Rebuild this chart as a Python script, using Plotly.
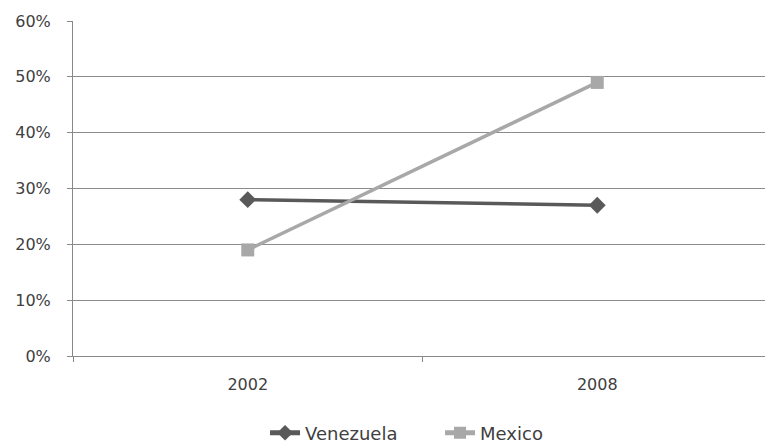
import plotly.graph_objects as go

years = ["2002", "2008"]
venezuela = [0.28, 0.27]
mexico = [0.19, 0.49]
y_ticks = [0, 0.1, 0.2, 0.3, 0.4, 0.5, 0.6]
y_labels = ["0%", "10%", "20%", "30%", "40%", "50%", "60%"]

fig = go.Figure()
fig.add_trace(go.Scatter(
    x=years, y=venezuela, name="Venezuela", mode="lines+markers",
    line=dict(color="#595959", width=3.5),
    marker=dict(symbol="diamond", size=13, color="#595959"),
))
fig.add_trace(go.Scatter(
    x=years, y=mexico, name="Mexico", mode="lines+markers",
    line=dict(color="#a8a8a8", width=3.5),
    marker=dict(symbol="square", size=13, color="#a8a8a8"),
))

fig.update_layout(
    width=765, height=436,
    margin=dict(l=65, r=1, t=13, b=88),
    paper_bgcolor="white", plot_bgcolor="white",
    font=dict(family="DejaVu Sans, sans-serif", size=16, color="#404040"),
    showlegend=True,
    legend=dict(orientation="h", xref="container", yref="container",
                x=0.336, xanchor="left", y=0.025, yanchor="middle",
                font=dict(size=18, color="#404040"), itemwidth=30, tracegroupgap=0,
                entrywidth=130, entrywidthmode="pixels",
                itemsizing="constant"),
    xaxis=dict(
        type="category", range=[-0.5, 1.5],
        showline=True, linecolor="#888888", linewidth=1,
        ticks="outside", tickson="boundaries", ticklen=5, tickcolor="#888888",
        ticklabelstandoff=14,
        showgrid=False, tickfont=dict(size=16, color="#404040"),
    ),
    yaxis=dict(
        range=[0, 0.6], tickvals=y_ticks, ticktext=y_labels,
        showline=True, linecolor="#888888", linewidth=1,
        ticks="outside", ticklen=5, tickcolor="#888888",
        ticklabelstandoff=13,
        showgrid=True, gridcolor="#8c8c8c", gridwidth=1,
        zeroline=False, tickfont=dict(size=16, color="#404040"),
    ),
)

fig.write_html("out.html")
